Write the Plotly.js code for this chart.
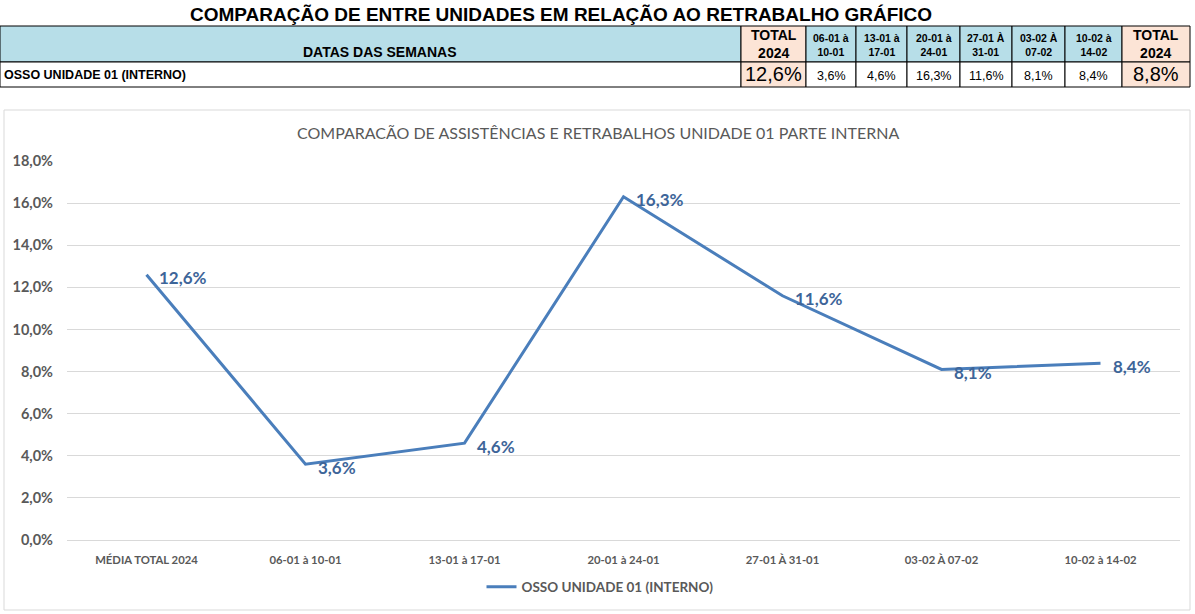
<!DOCTYPE html>
<html><head><meta charset="utf-8">
<script src="https://cdn.plot.ly/plotly-3.0.1.min.js"></script>
<style>html,body{margin:0;padding:0;background:#fff;}#chart{width:1195px;height:614px;}</style>
</head><body><div id="chart"></div>
<script>
// ---- data ----
const categories = ['MÉDIA TOTAL 2024','06-01 à 10-01','13-01 à 17-01','20-01 à 24-01','27-01 À 31-01','03-02 À 07-02','10-02 à 14-02'];
const seriesName = 'OSSO UNIDADE 01 (INTERNO)';
const values = [12.6, 3.6, 4.6, 16.3, 11.6, 8.1, 8.4];
const tableHeaders = ['DATAS DAS SEMANAS','TOTAL<br>2024','06-01 à<br>10-01','13-01 à<br>17-01','20-01 à<br>24-01','27-01 À<br>31-01','03-02 À<br>07-02','10-02 à<br>14-02','TOTAL<br>2024'];
const tableValues = [12.6, 3.6, 4.6, 16.3, 11.6, 8.1, 8.4, 8.8];
const mainTitle = 'COMPARAÇÃO DE ENTRE UNIDADES EM RELAÇÃO AO RETRABALHO GRÁFICO';
const chartTitle = 'COMPARACÃO DE ASSISTÊNCIAS E RETRABALHOS UNIDADE 01 PARTE INTERNA';
const yTicks = [0,2,4,6,8,10,12,14,16,18];

// ---- layout helpers ----
const W = 1195, H = 614;
const px = x => x / W;
const py = y => 1 - y / H;
const fmt = v => v.toFixed(1).replace('.', ',') + '%';

const BLUE = '#B7DEE8', PEACH = '#FCE4D6';
const ARIAL = 'Liberation Sans, Arial, sans-serif';
const CAL = 'Lato, Calibri, sans-serif';
const colEdges = [0, 741, 806, 856, 907, 960, 1012, 1065, 1122, 1190];
const rowEdges = [26, 62, 87];
const nCols = tableHeaders.length;
const isTotal = i => i === 1 || i === nCols - 1;

const shapes = [];
const annotations = [];

// table cells
for (let i = 0; i < nCols; i++) {
  const x0 = colEdges[i], x1 = colEdges[i + 1];
  shapes.push({type: 'rect', xref: 'paper', yref: 'paper', x0: px(x0), x1: px(x1), y0: py(rowEdges[1]), y1: py(rowEdges[0]),
    fillcolor: isTotal(i) ? PEACH : BLUE, line: {color: '#000', width: 1}, layer: 'below'});
  shapes.push({type: 'rect', xref: 'paper', yref: 'paper', x0: px(x0), x1: px(x1), y0: py(rowEdges[2]), y1: py(rowEdges[1]),
    fillcolor: isTotal(i) ? PEACH : '#FFFFFF', line: {color: '#000', width: 1}, layer: 'below'});
  const cx = (x0 + x1) / 2;
  if (i === 0) {
    annotations.push({text: '<b>' + tableHeaders[i] + '</b>', xref: 'paper', yref: 'paper', x: px(380), y: py(52),
      xanchor: 'center', yanchor: 'middle', showarrow: false, font: {family: ARIAL, size: 14, color: '#000'}});
    annotations.push({text: '<b>' + seriesName + '</b>', xref: 'paper', yref: 'paper', x: px(2), y: py(75),
      xanchor: 'left', yanchor: 'middle', showarrow: false, font: {family: ARIAL, size: 12.5, color: '#000'}});
  } else {
    annotations.push({text: '<b>' + tableHeaders[i] + '</b>', xref: 'paper', yref: 'paper', x: px(cx), y: py(isTotal(i) ? 43.5 : 45),
      xanchor: 'center', yanchor: 'middle', align: 'center', showarrow: false,
      font: {family: ARIAL, size: isTotal(i) ? 14 : 10.5, color: '#000'}});
    annotations.push({text: fmt(tableValues[i - 1]), xref: 'paper', yref: 'paper', x: px(cx), y: py(isTotal(i) ? 74.5 : 76),
      xanchor: 'center', yanchor: 'middle', showarrow: false,
      font: {family: ARIAL, size: isTotal(i) ? 20 : 12.5, color: '#000'}});
  }
}

// chart border
shapes.push({type: 'rect', xref: 'paper', yref: 'paper', x0: px(4), x1: px(1190), y0: py(610), y1: py(110),
  line: {color: '#D9D9D9', width: 1}, fillcolor: 'rgba(0,0,0,0)', layer: 'below'});

// titles
annotations.push({text: '<b>' + mainTitle + '</b>', xref: 'paper', yref: 'paper', x: px(561), y: py(14),
  xanchor: 'center', yanchor: 'middle', showarrow: false, font: {family: ARIAL, size: 19, color: '#000'}});
annotations.push({text: chartTitle, xref: 'paper', yref: 'paper', x: px(598), y: py(132),
  xanchor: 'center', yanchor: 'middle', showarrow: false, font: {family: CAL, size: 16, color: '#595959'}});

// data labels (through the axes)
categories.forEach((c, i) => {
  annotations.push({text: '<b>' + fmt(values[i]) + '</b>', xref: 'x', yref: 'y', x: c, y: values[i],
    xanchor: 'left', yanchor: 'middle', xshift: 10, yshift: -3, showarrow: false,
    font: {family: CAL, size: 17, color: '#3D6599'}});
});

const line = {
  type: 'scatter',
  mode: 'lines',
  x: categories,
  y: values,
  name: seriesName,
  line: {color: '#4A7EBB', width: 3},
  hoverinfo: 'skip'
};

const layout = {
  width: W, height: H,
  margin: {l: 0, r: 0, t: 0, b: 0},
  paper_bgcolor: '#fff', plot_bgcolor: 'rgba(0,0,0,0)',
  separators: ',.',
  showlegend: true,
  legend: {orientation: 'h', x: px(600), xanchor: 'center', y: py(587), yanchor: 'middle',
           font: {family: CAL, size: 13.5, color: '#595959', weight: 'bold'}},
  xaxis: {
    domain: [px(67), px(1180)],
    type: 'category',
    range: [-0.5, categories.length - 0.5],
    showgrid: false, zeroline: false,
    showline: true, linecolor: '#D9D9D9', linewidth: 1,
    ticks: '', ticklabelstandoff: 9,
    tickfont: {family: CAL, size: 11.3, color: '#595959', weight: 'bold'},
    fixedrange: true
  },
  yaxis: {
    domain: [py(540), py(161)],
    range: [0, 18],
    tickvals: yTicks,
    ticktext: yTicks.map(fmt),
    showgrid: true, gridcolor: '#D9D9D9', gridwidth: 1,
    zeroline: false, showline: false, ticks: '', ticklabelstandoff: 13,
    tickfont: {family: CAL, size: 14.5, color: '#595959', weight: 'bold'},
    fixedrange: true
  },
  shapes: shapes,
  annotations: annotations
};

Plotly.newPlot('chart', [line], layout, {displayModeBar: false, staticPlot: true});
</script>
</body></html>
